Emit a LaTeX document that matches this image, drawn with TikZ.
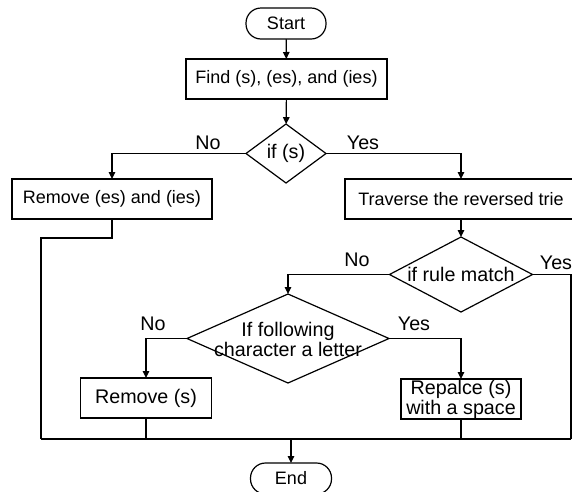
\documentclass[tikz,border=0pt]{standalone}
\usepackage{fontspec}
\setmainfont{Liberation Sans}
\usetikzlibrary{shapes.geometric,arrows.meta}
\tikzset{
  base/.style={draw=black, line width=1.2pt, inner sep=0pt, outer sep=0pt, align=center},
  term/.style={base, rounded corners=15pt, minimum width=80pt, minimum height=31pt, font=\fontsize{18}{20}\selectfont},
  procbox/.style={base, rectangle, minimum height=40pt, font=\fontsize{18}{20}\selectfont},
  procbig/.style={base, rectangle, minimum height=40pt, font=\fontsize{19.7}{20}\selectfont},
  dia/.style={base, diamond},
  diatext/.style={inner sep=0pt, align=center, font=\fontsize{19.7}{19.5}\selectfont},
  lbl/.style={inner sep=0pt, font=\fontsize{19.7}{20}\selectfont},
  line/.style={draw=black, line width=1.2pt},
  arr/.style={line, -{Triangle[length=7pt,width=6.5pt]}}
}
\begin{document}
\begin{tikzpicture}[x=1pt,y=-1pt]
\useasboundingbox (0,0) rectangle (572,491);
% nodes
\node[term] (start) at (286,23.5) {Start};
\node[procbox, minimum width=201pt] (find) at (286.5,79) {Find (s), (es), and (ies)};
\node[dia, minimum width=80pt, minimum height=59pt] (d1) at (286,153.5) {};
\node[diatext] (d1t) at (d1) {if (s)};
\node[procbox, minimum width=200pt] (rem1) at (112,199) {Remove (es) and (ies)};
\node[procbox, minimum width=232pt] (trav) at (461,199) {Traverse the reversed trie};
\node[dia, minimum width=143pt, minimum height=75pt] (d2) at (461,274.5) {};
\node[diatext] (d2t) at (d2) {if rule match};
\node[dia, minimum width=202pt, minimum height=89pt] (d3) at (288,338.5) {};
\node[diatext] (d3t) at ([yshift=-1pt]d3.center) {If following\\character a letter};
\node[procbig, minimum width=131pt] (rem2) at (146,398) {Remove (s)};
\node[procbig, minimum width=120pt] (rep) at (461,399) {Repalce (s)\\with a space};
\node[term, minimum width=81pt] (end) at (291,478.5) {End};
% labels
\node[lbl] (l1) at (208,143) {No};
\node[lbl] (l2) at (363,143) {Yes};
\node[lbl] (l3) at (357,260) {No};
\node[lbl] (l4) at (556,263) {Yes};
\node[lbl] (l5) at (153,324) {No};
\node[lbl] (l6) at (414,324) {Yes};
% helper coordinates
\coordinate (k1) at (41,238);
\coordinate (mL) at (41,439);
\coordinate (mR) at (571,439);
\coordinate (mM) at (291,439);
% connectors
\draw[arr] (start) -- (find);
\draw[arr] (find) -- (d1);
\draw[arr] (d1.west) -| (rem1.north);
\draw[arr] (d1.east) -| (trav.north);
\draw[line] (rem1.south) |- (k1) -- (mL);
\draw[arr] (trav) -- (d2);
\draw[arr] (d2.west) -| (d3.north);
\draw[line] (d2.east) -| (mR);
\draw[arr] (d3.west) -| (rem2.north);
\draw[arr] (d3.east) -| (rep.north);
\draw[line] (rem2.south) |- (mM);
\draw[line] (rep.south) |- (mM);
\draw[line] (mL) -- (mR);
\draw[arr] (mM) -- (end.north);
\end{tikzpicture}
\end{document}
